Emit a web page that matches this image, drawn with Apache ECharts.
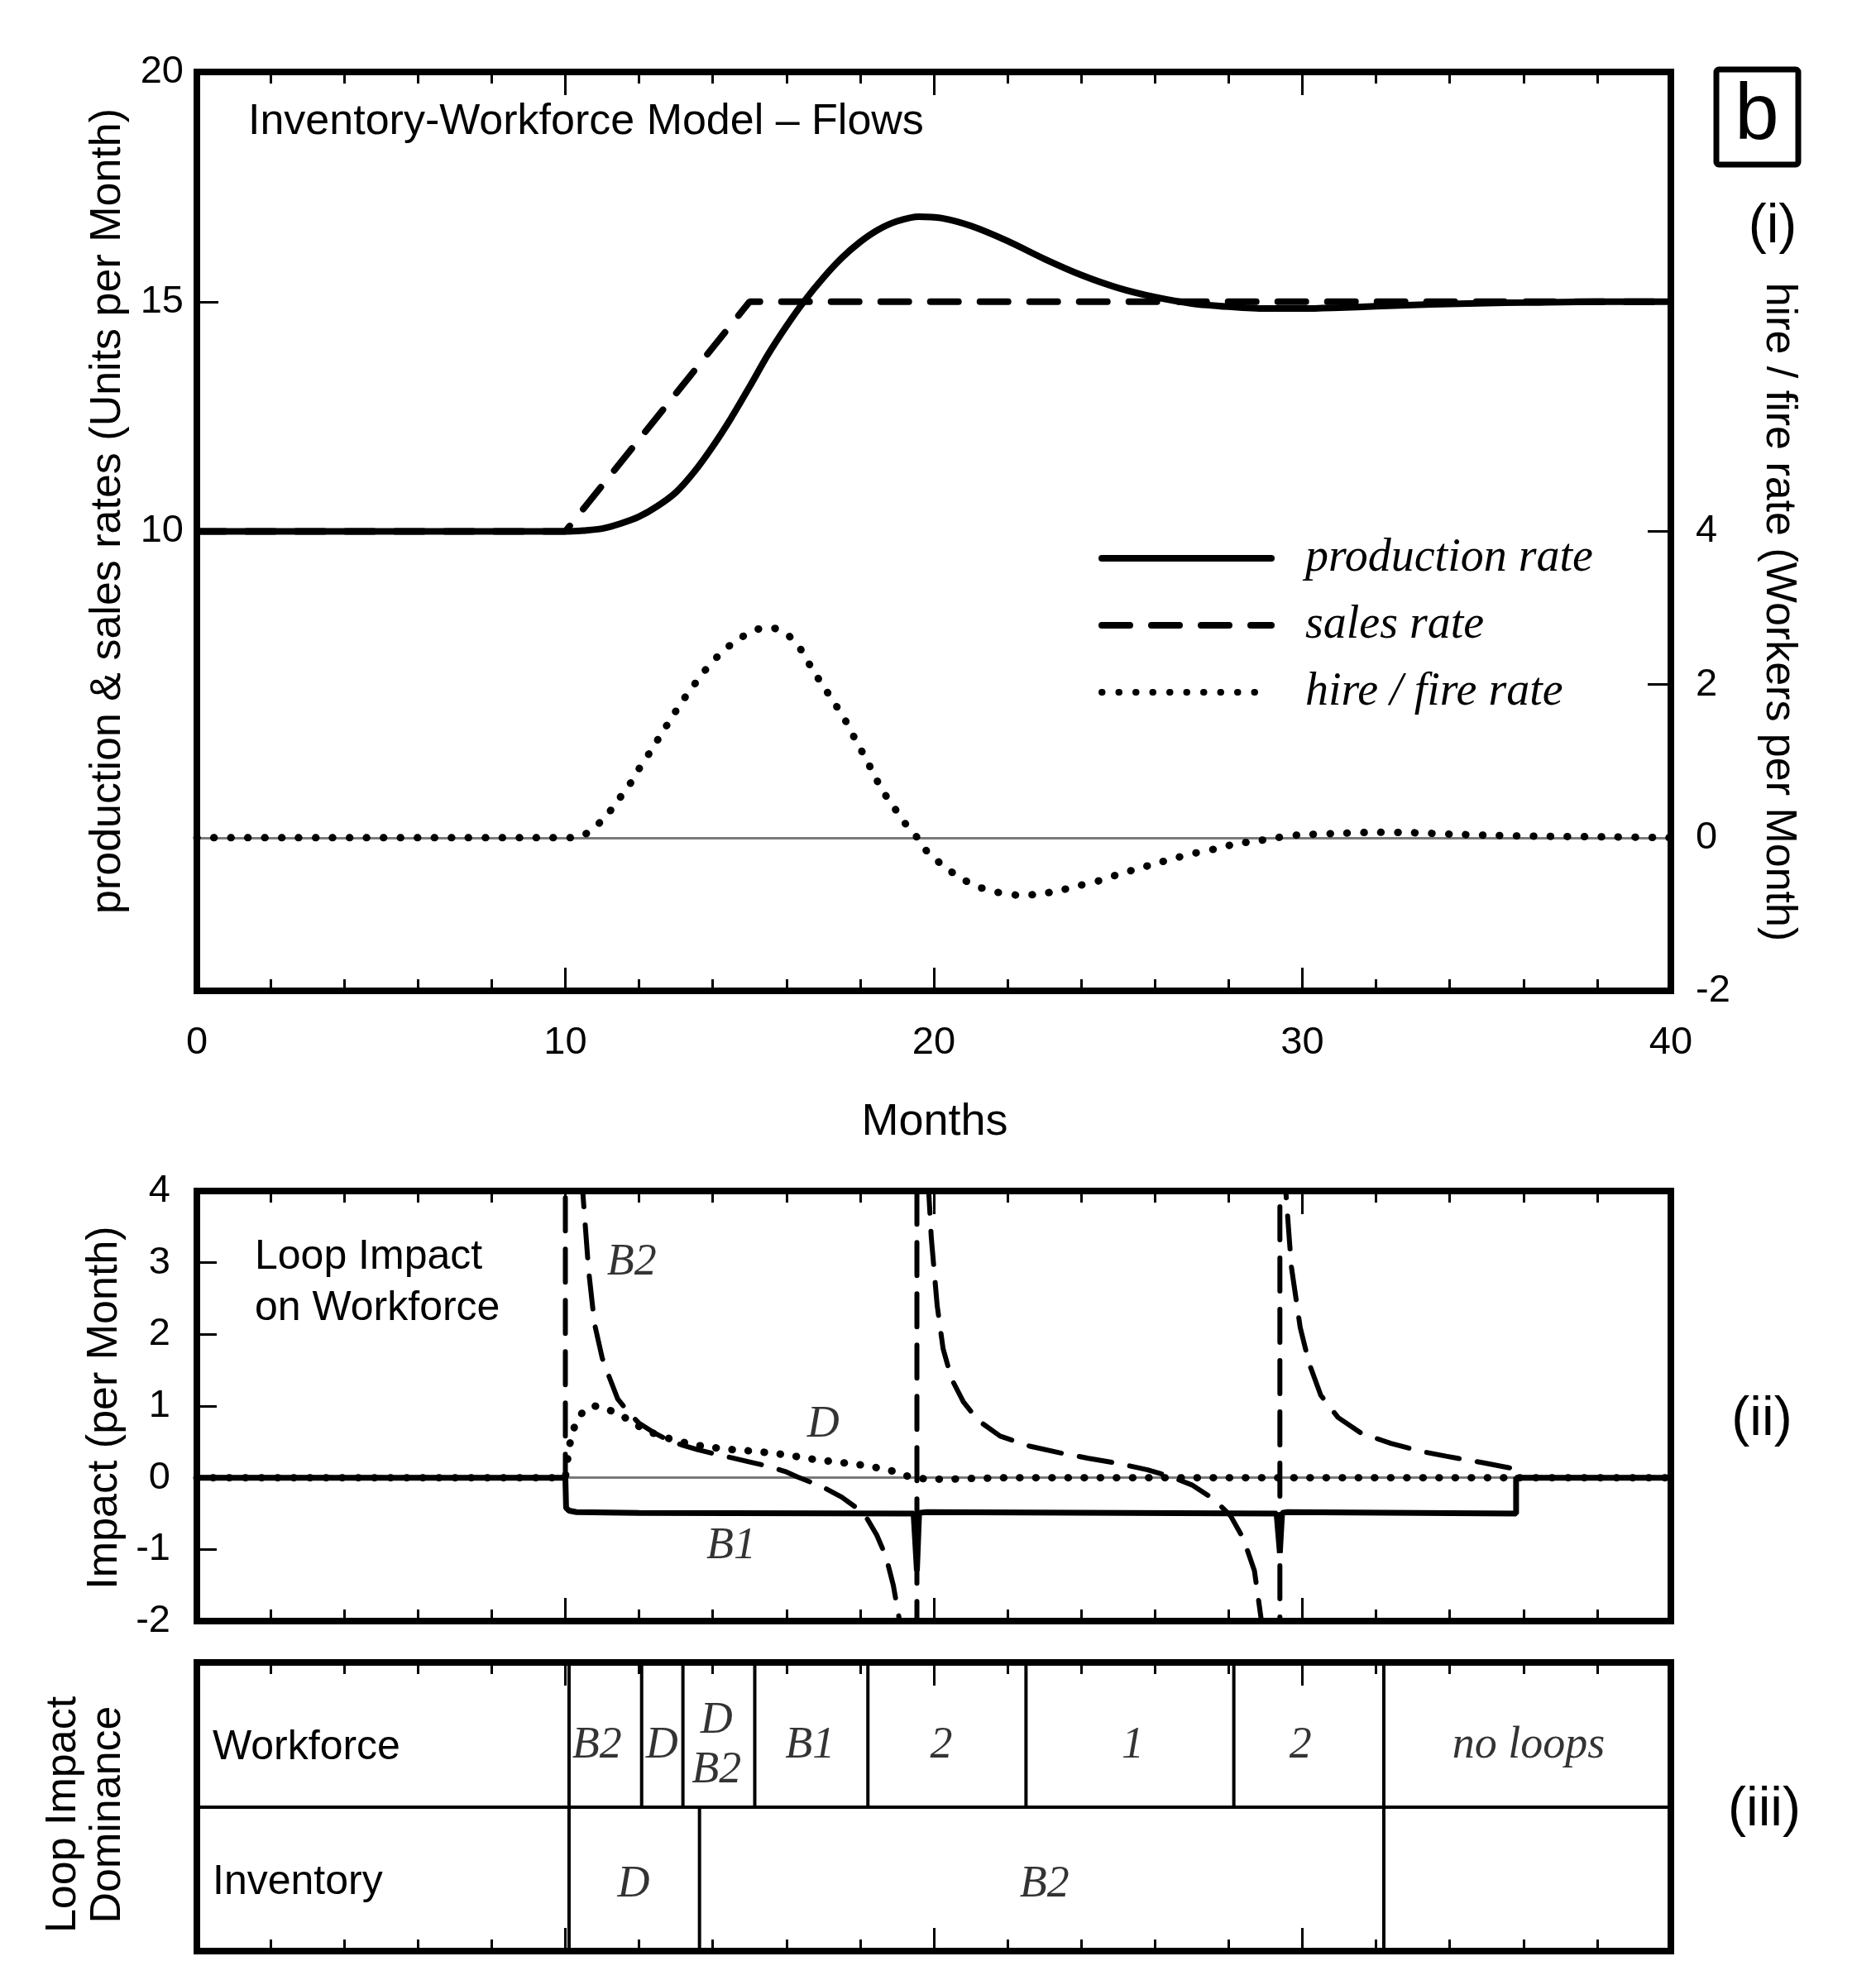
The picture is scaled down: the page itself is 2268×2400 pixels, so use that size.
<!DOCTYPE html>
<html><head><meta charset="utf-8">
<script src="https://cdn.jsdelivr.net/npm/echarts@6/dist/echarts.min.js"></script>
<style>html,body{margin:0;padding:0;background:#fff}#c{width:2268px;height:2400px}</style>
</head><body><div id="c"></div><script>
// ---------- DATA ----------
const xTickLabels = [0, 10, 20, 30, 40];
const leftTickLabels = [10, 15, 20];
const rightTickLabels = [-2, 0, 2, 4];

const productionRate = [[0,10],[10,10],[10.5,10.02],[11,10.06],[11.5,10.17],[12,10.32],[12.5,10.55],[13,10.85],[13.5,11.3],[14,11.85],[14.5,12.47],[15,13.15],[15.5,13.85],[16,14.47],[16.5,15.03],[17,15.52],[17.5,15.95],[18,16.3],[18.5,16.57],[19,16.75],[19.6,16.85],[20.2,16.82],[21,16.65],[22,16.32],[23,15.93],[24,15.58],[25,15.3],[26,15.1],[27,14.96],[28,14.89],[29,14.85],[30,14.85],[31,14.87],[32,14.9],[33,14.93],[34,14.95],[35,14.97],[36,14.98],[38,15],[40,15]];
const salesRate = [[0,10],[10,10],[15,15],[40,15]];
const hireFireRate = [[0,0],[10.3,0],[10.7,0.1],[11.1,0.28],[11.4,0.47],[11.75,0.7],[12.0,0.9],[12.3,1.12],[12.6,1.35],[12.9,1.58],[13.2,1.8],[13.5,2.0],[13.8,2.19],[14.2,2.4],[14.6,2.56],[15.1,2.7],[15.5,2.75],[16.0,2.66],[16.4,2.45],[16.7,2.2],[17.0,1.98],[17.3,1.76],[17.6,1.53],[17.85,1.3],[18.1,1.08],[18.35,0.85],[18.6,0.62],[18.9,0.41],[19.2,0.2],[19.55,0],[19.85,-0.2],[20.3,-0.38],[20.7,-0.52],[21.2,-0.64],[21.7,-0.71],[22.3,-0.75],[22.8,-0.74],[23.4,-0.69],[23.9,-0.63],[24.5,-0.56],[25.0,-0.48],[25.5,-0.41],[26.0,-0.34],[26.6,-0.26],[27.1,-0.2],[27.7,-0.14],[28.2,-0.08],[28.8,-0.04],[29.3,0],[29.9,0.035],[30.9,0.055],[32.0,0.07],[33.0,0.065],[34.1,0.045],[35.2,0.03],[36.3,0.02],[38.5,0.01],[40,0]];

const impactB1 = [[0,0],[10,0],[10.02,-0.42],[10.1,-0.46],[10.3,-0.48],[12,-0.49],[19.45,-0.5],[19.54,-1.3],[19.6,-0.49],[19.8,-0.48],[29.3,-0.5],[29.39,-1.05],[29.45,-0.49],[29.6,-0.48],[35.8,-0.5],[35.8,0],[40,0]];
const impactB2 = [[0,0],[10,0],[10,60],[10.47,4.0],[10.63,2.9],[10.79,2.15],[11.0,1.67],[11.18,1.42],[11.42,1.1],[11.7,0.92],[12.0,0.76],[12.4,0.63],[12.8,0.52],[13.2,0.45],[13.6,0.39],[14.0,0.34],[14.5,0.28],[15.0,0.22],[15.5,0.16],[16.0,0.08],[16.3,0.01],[16.7,-0.07],[17.1,-0.16],[17.5,-0.27],[17.9,-0.42],[18.2,-0.58],[18.45,-0.8],[18.7,-1.1],[18.9,-1.5],[19.07,-2.0],[19.25,-3],[19.45,-6],[19.54,-60],[19.54,60],[19.7,7],[19.86,4.0],[19.93,3.35],[20.09,2.4],[20.25,1.8],[20.48,1.38],[20.8,1.06],[21.2,0.8],[21.8,0.58],[22.6,0.44],[23.4,0.35],[24.2,0.27],[25.0,0.2],[25.8,0.11],[26.4,0.02],[27.0,-0.1],[27.6,-0.3],[28.05,-0.53],[28.4,-0.85],[28.7,-1.3],[28.89,-2.0],[29.1,-3.2],[29.3,-7],[29.39,-60],[29.39,60],[29.48,8],[29.55,4.0],[29.7,2.95],[29.94,2.1],[30.18,1.6],[30.5,1.15],[30.97,0.84],[31.6,0.62],[32.4,0.48],[33.2,0.37],[33.9,0.3],[34.9,0.21],[35.8,0.12],[35.8,0],[40,0]];
const impactD = [[0,0],[10,0],[10.05,0.2],[10.1,0.43],[10.24,0.7],[10.4,0.87],[10.55,0.96],[10.8,1.0],[11.03,0.98],[11.3,0.92],[11.58,0.85],[12.05,0.7],[12.52,0.59],[13.0,0.52],[13.47,0.46],[14.02,0.42],[14.57,0.39],[15.12,0.37],[15.68,0.34],[16.23,0.3],[16.7,0.26],[17.33,0.22],[17.88,0.19],[18.36,0.15],[18.83,0.1],[19.3,0.02],[19.6,-0.01],[19.93,-0.02],[20.4,-0.02],[21.0,-0.01],[22,0],[40,0]];
const impactLabels = [['B2',11.8,3.0],['D',17.0,0.74],['B1',14.5,-0.96]];

const workforceBounds = [10.1, 12.07, 13.19, 15.14, 18.21, 22.5, 28.14, 32.21];
const inventoryBounds = [10.1, 13.64, 32.21];
const workforceLabels = [['B2',10.86],['D',12.62],['D\nB2',14.1],['B1',16.64],['2',20.2],['1',25.4],['2',29.95],['no loops',36.14]];
const inventoryLabels = [['D',11.85],['B2',23.0]];

// ---------- STYLE ----------
const SANS = 'Liberation Sans, Arial, Helvetica, sans-serif';
const SERIF = 'Liberation Serif, Times New Roman, serif';
const BLACK = '#000';
const GL = 238, GW = 1782;
const grids = [
  {left: GL, top: 87, width: GW, height: 1111},
  {left: GL, top: 1440, width: GW, height: 520},
  {left: GL, top: 2010, width: GW, height: 349}
].map(g => Object.assign(g, {show: true, borderColor: BLACK, borderWidth: 8, backgroundColor: 'transparent'}));

function xAx(gridIndex, position, showLabels) {
  return {
    type: 'value', gridIndex, position, min: 0, max: 40, interval: 10,
    axisLine: {show: false, onZero: false}, splitLine: {show: false},
    axisTick: {show: true, inside: true, length: 28, lineStyle: {color: BLACK, width: 3}},
    minorTick: {show: true, splitNumber: 5, length: 14, lineStyle: {color: BLACK, width: 3}},
    axisLabel: {show: showLabels, margin: 40, color: BLACK, fontFamily: SANS, fontSize: 47,
      customValues: showLabels ? xTickLabels : undefined}
  };
}

const chart = echarts.init(document.getElementById('c'), null, {renderer: 'canvas'});

const dotStyle = {color: BLACK, width: 9, type: [0.5, 20], cap: 'round'};

const option = {
  animation: false,
  backgroundColor: '#fff',
  grid: grids,
  legend: {
    data: ['production rate', 'sales rate', 'hire / fire rate'],
    orient: 'vertical', left: 1323, top: 640,
    itemWidth: 205, itemHeight: 40, itemGap: 21,
    itemStyle: {opacity: 0, borderWidth: 0},
    lineStyle: {width: 8, cap: 'round'},
    textStyle: {fontFamily: SERIF, fontStyle: 'italic', fontSize: 56, color: BLACK, lineHeight: 60, padding: [0, 0, 0, 36]},
    selectedMode: false
  },
  xAxis: [
    xAx(0, 'bottom', true), xAx(0, 'top', false),
    xAx(1, 'bottom', false), xAx(1, 'top', false),
    xAx(2, 'bottom', false), xAx(2, 'top', false)
  ],
  yAxis: [
    {type: 'value', gridIndex: 0, position: 'left', min: 0, max: 20, interval: 5,
      axisLine: {show: false, onZero: false}, splitLine: {show: false},
      axisTick: {show: true, inside: true, length: 26, lineStyle: {color: BLACK, width: 3}, customValues: [10, 15]},
      axisLabel: {show: true, margin: 16, color: BLACK, fontFamily: SANS, fontSize: 47, customValues: leftTickLabels}},
    {type: 'value', gridIndex: 0, position: 'right', min: -2, max: 10, interval: 2,
      axisLine: {show: false, onZero: false}, splitLine: {show: false},
      axisTick: {show: true, inside: true, length: 28, lineStyle: {color: BLACK, width: 3}, customValues: [2, 4]},
      axisLabel: {show: true, margin: 30, color: BLACK, fontFamily: SANS, fontSize: 47, customValues: rightTickLabels}},
    {type: 'value', gridIndex: 1, position: 'left', min: -2, max: 4, interval: 1,
      axisLine: {show: false, onZero: false}, splitLine: {show: false},
      axisTick: {show: true, inside: true, length: 24, lineStyle: {color: BLACK, width: 3}, customValues: [-1, 1, 2, 3]},
      axisLabel: {show: true, margin: 32, color: BLACK, fontFamily: SANS, fontSize: 47}},
    {type: 'value', gridIndex: 2, min: 0, max: 2,
      axisLine: {show: false, onZero: false}, splitLine: {show: false}, axisTick: {show: false}, axisLabel: {show: false}}
  ],
  series: [
    {name: 'production rate', type: 'line', xAxisIndex: 0, yAxisIndex: 0, data: productionRate,
      symbol: 'none', smooth: 0.3, lineStyle: {color: BLACK, width: 8}, itemStyle: {color: BLACK}, z: 5},
    {name: 'sales rate', type: 'line', xAxisIndex: 0, yAxisIndex: 0, data: salesRate,
      symbol: 'none', lineStyle: {color: BLACK, width: 8, type: [34, 26], cap: 'round'}, itemStyle: {color: BLACK}, z: 5},
    {name: 'hire / fire rate', type: 'line', xAxisIndex: 0, yAxisIndex: 1, data: hireFireRate,
      symbol: 'none', smooth: 0.3, lineStyle: dotStyle, itemStyle: {color: BLACK}, z: 5,
      markLine: {silent: true, symbol: 'none', label: {show: false}, z: 2,
        lineStyle: {color: '#7a7a7a', width: 3, type: 'solid'}, data: [{yAxis: 0}]}},

    {name: 'B1', type: 'line', xAxisIndex: 2, yAxisIndex: 2, data: impactB1,
      symbol: 'none', lineStyle: {color: BLACK, width: 7}, z: 5,
      markLine: {silent: true, symbol: 'none', label: {show: false}, z: 2,
        lineStyle: {color: '#7a7a7a', width: 3, type: 'solid'}, data: [{yAxis: 0}]}},
    {name: 'B2', type: 'line', xAxisIndex: 2, yAxisIndex: 2, data: impactB2,
      symbol: 'none', lineStyle: {color: BLACK, width: 6, type: [40, 22], cap: 'round'}, z: 5},
    {name: 'D', type: 'line', xAxisIndex: 2, yAxisIndex: 2, data: impactD,
      symbol: 'none', lineStyle: {color: BLACK, width: 9, type: [0.5, 19], cap: 'round'}, z: 5},
    {name: 'impact labels', type: 'scatter', xAxisIndex: 2, yAxisIndex: 2, symbolSize: 0, silent: true,
      data: impactLabels.map(d => ({name: d[0], value: [d[1], d[2]]})),
      label: {show: true, position: 'inside', formatter: p => p.name, color: BLACK,
        fontFamily: SERIF, fontStyle: 'italic', fontSize: 54}},

    {name: 'bounds', type: 'custom', xAxisIndex: 4, yAxisIndex: 3, silent: true,
      data: workforceBounds.map(t => [t, 1, 2]).concat(inventoryBounds.map(t => [t, 0, 1])),
      encode: {x: 0, y: [1, 2]},
      renderItem: function (params, api) {
        const a = api.coord([api.value(0), api.value(1)]);
        const b = api.coord([api.value(0), api.value(2)]);
        return {type: 'line', shape: {x1: a[0], y1: a[1], x2: b[0], y2: b[1]}, style: {stroke: BLACK, lineWidth: 4}};
      }},
    {name: 'dominance labels', type: 'scatter', xAxisIndex: 4, yAxisIndex: 3, symbolSize: 0, silent: true,
      data: workforceLabels.map(d => ({name: d[0], value: [d[1], 1.42]}))
        .concat(inventoryLabels.map(d => ({name: d[0], value: [d[1], 0.46]}))),
      label: {show: true, position: 'inside', formatter: p => p.name, color: BLACK,
        fontFamily: SERIF, fontStyle: 'italic', fontSize: 54, lineHeight: 60},
      markLine: {silent: true, symbol: 'none', label: {show: false},
        lineStyle: {color: BLACK, width: 4, type: 'solid'}, data: [{yAxis: 1}]}}
  ],
  graphic: [
    {type: 'text', x: 300, y: 148, style: {text: 'Inventory-Workforce Model – Flows', font: '52px ' + SANS, fill: BLACK, align: 'left', verticalAlign: 'middle'}},
    {type: 'text', x: 1130, y: 1357, style: {text: 'Months', font: '54px ' + SANS, fill: BLACK, align: 'center', verticalAlign: 'middle'}},
    {type: 'text', x: 131, y: 618, rotation: Math.PI / 2, style: {text: 'production & sales rates (Units per Month)', font: '52px ' + SANS, fill: BLACK, align: 'center', verticalAlign: 'middle'}},
    {type: 'text', x: 2150, y: 740, rotation: -Math.PI / 2, style: {text: 'hire / fire rate (Workers per Month)', font: '52px ' + SANS, fill: BLACK, align: 'center', verticalAlign: 'middle'}},
    {type: 'rect', shape: {x: 2075, y: 84, width: 99, height: 115, r: 3}, style: {fill: 'none', stroke: BLACK, lineWidth: 7}},
    {type: 'text', x: 2124, y: 142, style: {text: 'b', font: '96px ' + SANS, fill: BLACK, align: 'center', verticalAlign: 'middle'}},
    {type: 'text', x: 2143, y: 275, style: {text: '(i)', font: '66px ' + SANS, fill: BLACK, align: 'center', verticalAlign: 'middle'}},
    {type: 'text', x: 127, y: 1702, rotation: Math.PI / 2, style: {text: 'Impact (per Month)', font: '52px ' + SANS, fill: BLACK, align: 'center', verticalAlign: 'middle'}},
    {type: 'text', x: 308, y: 1520, style: {text: 'Loop Impact', font: '50px ' + SANS, fill: BLACK, align: 'left', verticalAlign: 'middle'}},
    {type: 'text', x: 308, y: 1582, style: {text: 'on Workforce', font: '50px ' + SANS, fill: BLACK, align: 'left', verticalAlign: 'middle'}},
    {type: 'text', x: 2130, y: 1717, style: {text: '(ii)', font: '66px ' + SANS, fill: BLACK, align: 'center', verticalAlign: 'middle'}},
    {type: 'text', x: 2133, y: 2189, style: {text: '(iii)', font: '66px ' + SANS, fill: BLACK, align: 'center', verticalAlign: 'middle'}},
    {type: 'text', x: 77, y: 2194, rotation: Math.PI / 2, style: {text: 'Loop Impact', font: '52px ' + SANS, fill: BLACK, align: 'center', verticalAlign: 'middle'}},
    {type: 'text', x: 131, y: 2194, rotation: Math.PI / 2, style: {text: 'Dominance', font: '52px ' + SANS, fill: BLACK, align: 'center', verticalAlign: 'middle'}},
    {type: 'text', x: 257, y: 2113, style: {text: 'Workforce', font: '50px ' + SANS, fill: BLACK, align: 'left', verticalAlign: 'middle'}},
    {type: 'text', x: 257, y: 2276, style: {text: 'Inventory', font: '50px ' + SANS, fill: BLACK, align: 'left', verticalAlign: 'middle'}}
  ]
};
chart.setOption(option);
</script></body></html>
